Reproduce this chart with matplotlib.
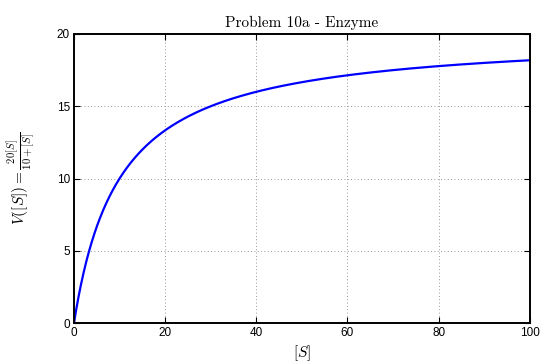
import numpy as np
import matplotlib
matplotlib.use("Agg")
import matplotlib.pyplot as plt

plt.rcParams["mathtext.fontset"] = "cm"
plt.rcParams["font.family"] = ["Liberation Sans", "DejaVu Sans"]

# Michaelis-Menten kinetics: V([S]) = Vmax [S] / (Km + [S])
v_max = 20
k_m = 10
s = np.linspace(0, 100, 1001)
v = v_max * s / (k_m + s)

x_ticks = [0, 20, 40, 60, 80, 100]
y_ticks = [0, 5, 10, 15, 20]

fig = plt.figure(figsize=(5.4, 3.64), dpi=100)
ax = fig.add_axes([0.137, 0.1126, 0.844, 0.794])

ax.plot(s, v, color=(0, 0, 1), linewidth=1.6)

ax.set_xlim(0, 100)
ax.set_ylim(0, 20)
ax.set_xticks(x_ticks)
ax.set_yticks(y_ticks)
ax.tick_params(direction="in", length=4, width=0.8, labelsize=8.5, top=True, right=True, pad=3)
for sp in ax.spines.values():
    sp.set_linewidth(1.4)
ax.grid(True, linestyle=(0, (1, 3)), color="#777777", linewidth=0.6)

ax.set_title("Problem 10a - Enzyme", family="cmr10", fontsize=11, pad=5)
ax.set_xlabel(r"$[S]$", fontsize=11, labelpad=3)
ax.set_ylabel(r"$V([S]) = \frac{20[S]}{10+[S]}$", fontsize=11, labelpad=14)

fig.savefig("out.png", dpi=100)
